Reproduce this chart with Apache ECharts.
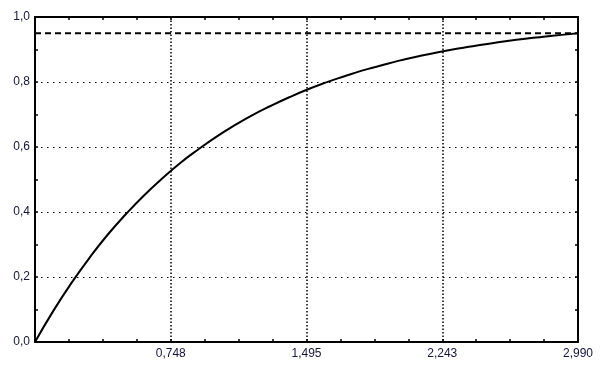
<!DOCTYPE html>
<html>
<head>
<meta charset="utf-8">
<script src="https://cdn.jsdelivr.net/npm/echarts@6/dist/echarts.min.js"></script>
<style>html,body{margin:0;padding:0;background:#fff}#c{width:605px;height:372px}</style>
</head>
<body>
<div id="c"></div>
<script>
var xValues = [0, 0.1, 0.2, 0.3, 0.4, 0.5, 0.6, 0.7, 0.8, 0.9, 1.0, 1.1, 1.2, 1.3, 1.4, 1.5, 1.6, 1.7, 1.8, 1.9, 2.0, 2.1, 2.2, 2.3, 2.4, 2.5, 2.6, 2.7, 2.8, 2.9, 2.99];
var yValues = [0, 0.095, 0.181, 0.259, 0.330, 0.393, 0.451, 0.503, 0.551, 0.593, 0.632, 0.667, 0.699, 0.727, 0.753, 0.777, 0.798, 0.817, 0.835, 0.850, 0.865, 0.878, 0.889, 0.900, 0.909, 0.918, 0.926, 0.933, 0.939, 0.945, 0.950];
var thresholdLevel = 0.95;
var xTickLabels = ['', '0,748', '1,495', '2,243', '2,990'];
var yTickLabels = ['0,0', '0,2', '0,4', '0,6', '0,8', '1,0'];
var xMax = 2.99, xStep = 0.7475, xMinorStep = 0.186875;
var yMax = 1, yStep = 0.2, yMinorStep = 0.1;

var curve = xValues.map(function (x, i) { return [x, yValues[i]]; });
var dashed = [[0, thresholdLevel], [xMax, thresholdLevel]];

var font = { fontFamily: 'Liberation Sans, Arial, sans-serif', fontSize: 12, color: '#14143c' };
var axLine = { show: true, onZero: false, lineStyle: { color: '#000', width: 2 } };
var tick = { show: true, inside: true, length: 3, lineStyle: { color: '#000', width: 1.5 } };
var none = { show: false, onZero: false };

function xLabel(v) {
  var k = Math.round(v / xMinorStep);
  return k % 4 === 0 ? (xTickLabels[k / 4] || '') : '';
}
function yLabel(v) {
  var k = Math.round(v / yMinorStep);
  return k % 2 === 0 ? (yTickLabels[k / 2] || '') : '';
}

var chart = echarts.init(document.getElementById('c'), null, { renderer: 'canvas' });
chart.setOption({
  animation: false,
  grid: { left: 35, right: 27, top: 17, bottom: 30, containLabel: false },
  xAxis: [{
    type: 'value', min: 0, max: xMax, interval: xMinorStep, position: 'bottom',
    axisLine: axLine, axisTick: tick,
    axisLabel: Object.assign({ margin: 6, showMaxLabel: true, formatter: xLabel }, font),
    splitLine: { show: false }
  }, {
    type: 'value', min: 0, max: xMax, interval: xMinorStep, position: 'top',
    axisLine: axLine, axisTick: tick, axisLabel: { show: false }, splitLine: { show: false }
  }, {
    type: 'value', min: 0, max: xMax, interval: xStep, position: 'top',
    axisLine: none, axisTick: { show: false }, axisLabel: { show: false },
    splitLine: { show: true, lineStyle: { color: '#000', width: 1.5, type: [1.5, 2] } }
  }],
  yAxis: [{
    type: 'value', min: 0, max: yMax, interval: yMinorStep, position: 'left',
    axisLine: axLine, axisTick: tick,
    axisLabel: Object.assign({ margin: 5, showMaxLabel: true, formatter: yLabel }, font),
    splitLine: { show: false }
  }, {
    type: 'value', min: 0, max: yMax, interval: yMinorStep, position: 'right',
    axisLine: axLine, axisTick: tick, axisLabel: { show: false }, splitLine: { show: false }
  }, {
    type: 'value', min: 0, max: yMax, interval: yStep, position: 'right',
    axisLine: none, axisTick: { show: false }, axisLabel: { show: false },
    splitLine: { show: true, lineStyle: { color: '#000', width: 1.2, type: [1.5, 4.5] } }
  }],
  series: [{
    type: 'line', data: curve, xAxisIndex: 0, yAxisIndex: 0,
    showSymbol: false, smooth: true, lineStyle: { color: '#000', width: 2 }, z: 5
  }, {
    type: 'line', data: dashed, xAxisIndex: 0, yAxisIndex: 0,
    showSymbol: false, lineStyle: { color: '#000', width: 2, type: [6, 4] }, z: 4
  }]
});
</script>
</body>
</html>
